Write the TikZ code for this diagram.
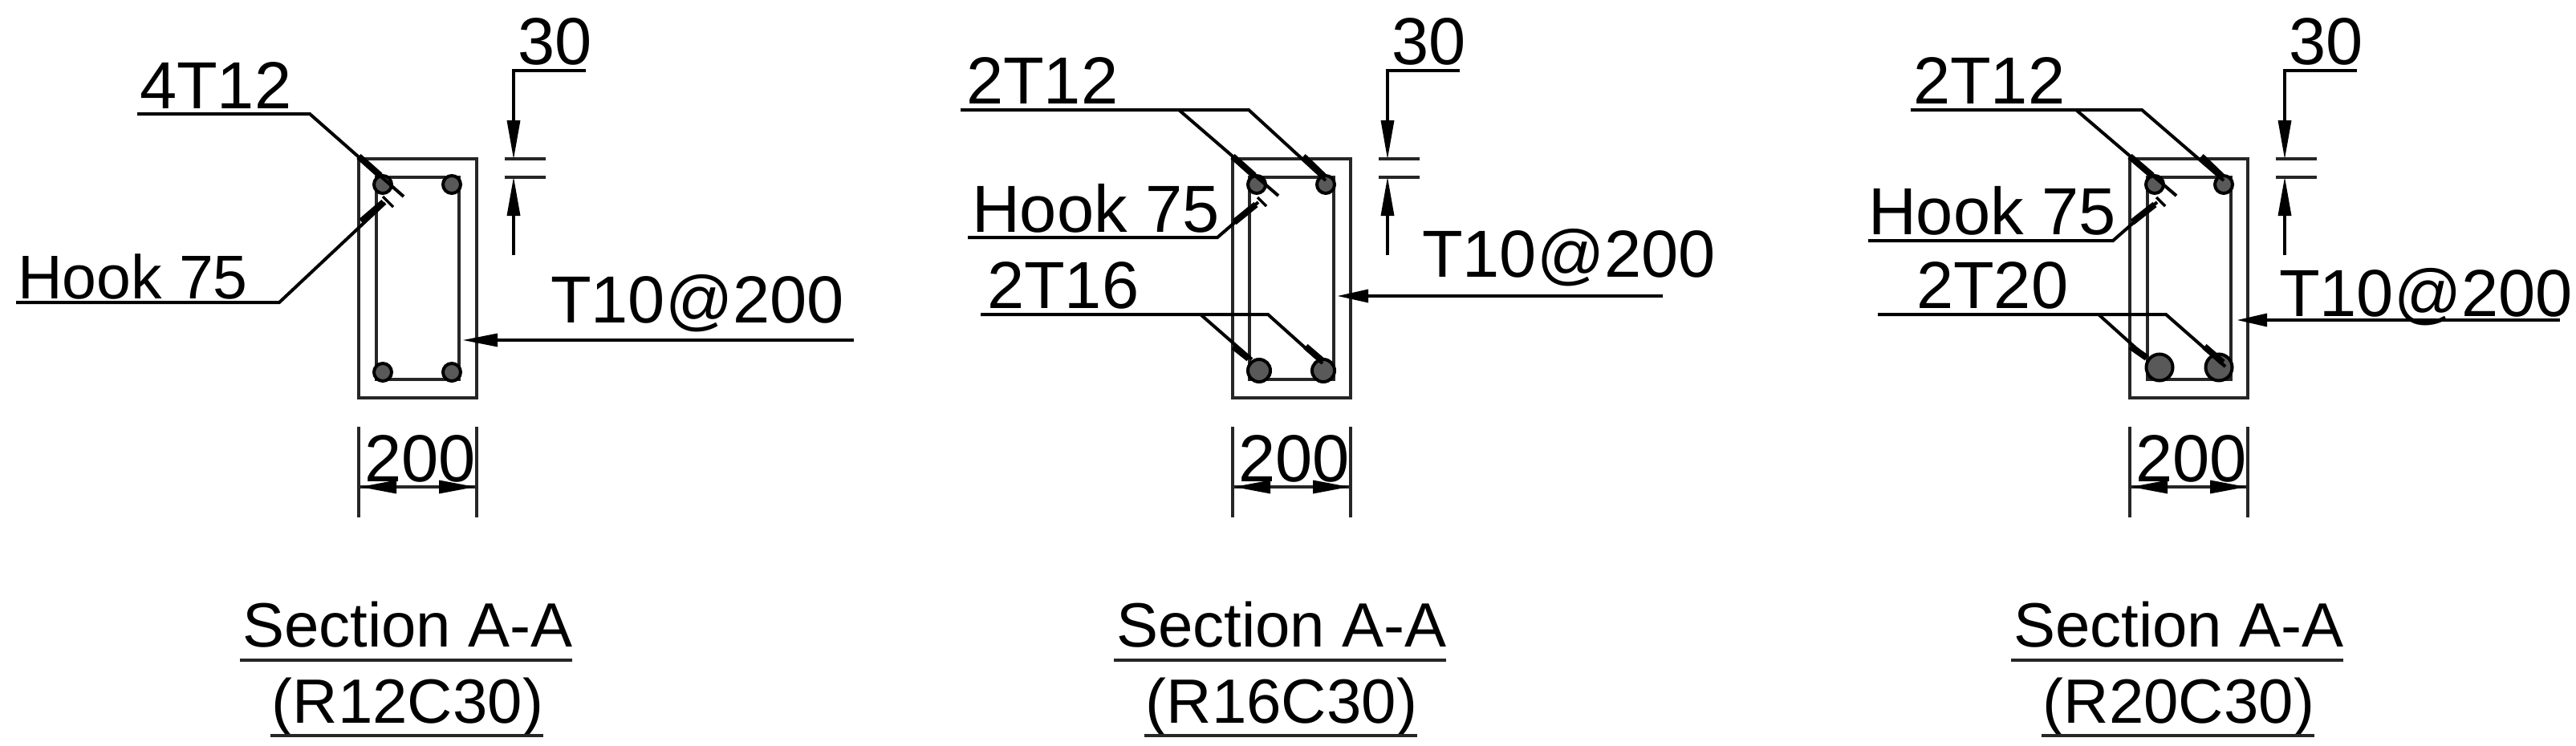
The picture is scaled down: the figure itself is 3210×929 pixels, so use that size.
\documentclass[tikz,border=0pt]{standalone}
\usepackage{fontspec}
\setmainfont{Liberation Sans}
\usetikzlibrary{arrows.meta}
\tikzset{
  x=1pt,y=-1pt,
  lbl/.style={anchor=base west,inner sep=0pt,outer sep=0pt,font=\fontsize{83}{83}\selectfont,text=black},
  smalllbl/.style={lbl,font=\fontsize{77}{77}\selectfont},
  ttl/.style={anchor=base,inner sep=0pt,outer sep=0pt,font=\fontsize{78}{78}\selectfont,text=black},
  ln/.style={draw=black!85,line width=4.5pt},
  ld/.style={draw=black,line width=4pt,line join=miter},
  thin ld/.style={draw=black,line width=3.5pt},
  fat/.style={draw=black,line width=8pt,line cap=butt},
  bar/.style={circle,draw=black,line width=4pt,fill=black!65,inner sep=0pt,minimum size=#1},
}
\newcommand{\secbase}[3]{% x offset, id, caption
  \begin{scope}[xshift=#1pt]
  \coordinate (o1#2) at (447,198); \coordinate (o2#2) at (594,496);
  \draw[ln] (o1#2) rectangle (o2#2);
  \coordinate (t1#2) at (629,198); \coordinate (t2#2) at (680,198);
  \coordinate (t3#2) at (629,221); \coordinate (t4#2) at (680,221);
  \draw[ln] (t1#2) -- (t2#2);
  \draw[ln] (t3#2) -- (t4#2);
  \coordinate (u0#2) at (730,88); \coordinate (u1#2) at (640,88);
  \coordinate (u2#2) at (640,198); \coordinate (l1#2) at (640,318); \coordinate (l2#2) at (640,221);
  \draw[ld] (u0#2) -- (u1#2) -- (640,150);
  \fill[black] (u2#2) -- (631.5,150) -- (648.5,150) -- cycle;
  \draw[ld] (l1#2) -- (640,269);
  \fill[black] (l2#2) -- (631.5,269) -- (648.5,269) -- cycle;
  \node[lbl] (c30#2) at (645,80) {30};
  \coordinate (e1#2) at (447,532); \coordinate (e2#2) at (447,645);
  \coordinate (e3#2) at (594,532); \coordinate (e4#2) at (594,645);
  \draw[ln] (e1#2) -- (e2#2);
  \draw[ln] (e3#2) -- (e4#2);
  \coordinate (d1#2) at (449,607); \coordinate (d2#2) at (592,607);
  \draw[ln] (d1#2) -- (d2#2);
  \fill[black] (d1#2) -- (494,598.5) -- (494,615.5) -- cycle;
  \fill[black] (d2#2) -- (547,598.5) -- (547,615.5) -- cycle;
  \node[lbl] (w200#2) at (454,600) {200};
  \node[ttl] (s1#2) at (508,806) {Section A-A};
  \coordinate (r1#2) at (299,823); \coordinate (r2#2) at (713,823);
  \draw[ln] (r1#2) -- (r2#2);
  \node[ttl] (s2#2) at (508,901) {#3};
  \coordinate (r3#2) at (337,917); \coordinate (r4#2) at (677,917);
  \draw[ln] (r3#2) -- (r4#2);
  \end{scope}
}
\begin{document}
\begin{tikzpicture}
\useasboundingbox (0,0) rectangle (3210,929);
\fill[white] (0,0) rectangle (3210,929);
\secbase{0}{a}{(R12C30)}
\secbase{1089}{b}{(R16C30)}
\secbase{2207}{c}{(R20C30)}

% ---------- panel 1
\draw[ln] (469,221) rectangle (572,473);
\node[bar=22pt] (a1) at (477,230) {};
\node[bar=22pt] (a2) at (563,230) {};
\node[bar=22pt] (a3) at (477,464) {};
\node[bar=22pt] (a4) at (563,464) {};
\node[lbl] (a4t) at (174,135) {4T12};
\coordinate (aL0) at (171,142); \coordinate (aL1) at (386,142); \coordinate (aL2) at (503,245);
\draw[ld] (aL0) -- (aL1) -- (aL2);
\draw[fat] (447,195) -- (474,219);
\node[smalllbl] (ah) at (22,372) {Hook 75};
\coordinate (aH0) at (20,377); \coordinate (aH1) at (348,377); \coordinate (aH2) at (480,253);
\draw[ld] (aH0) -- (aH1) -- (aH2);
\draw[fat] (450,276) -- (478,252);
\coordinate (aK1) at (477,245); \coordinate (aK2) at (490,258);
\draw[thin ld] (aK1) -- (aK2);
\node[lbl] (at) at (686,402) {T10@200};
\coordinate (aT0) at (1064,424); \coordinate (aT1) at (577,424);
\draw[ld] (aT0) -- (620,424);
\fill[black] (aT1) -- (620,415.5) -- (620,432.5) -- cycle;

% ---------- panel 2
\draw[ln] (1557,221) rectangle (1662,473);
\node[bar=22pt] (b1) at (1566,230) {};
\node[bar=22pt] (b2) at (1652,230) {};
\node[bar=28pt] (b3) at (1569,462) {};
\node[bar=28pt] (b4) at (1649,462) {};
\node[lbl] (b2t) at (1204,129) {2T12};
\coordinate (bL0) at (1197,137); \coordinate (bL1) at (1556,137); \coordinate (bB) at (1469,137);
\coordinate (bE1) at (1593,244); \coordinate (bE2) at (1652,225);
\draw[ld] (bL0) -- (bL1) -- (bE2);
\draw[ld] (bB) -- (bE1);
\draw[fat] (1536,195) -- (1563,219);
\draw[fat] (1624,195) -- (1650,220);
\node[lbl] (bh) at (1211,289) {Hook 75};
\coordinate (bH0) at (1206,296); \coordinate (bH1) at (1517,296); \coordinate (bH2) at (1568,252);
\draw[ld] (bH0) -- (bH1) -- (bH2);
\draw[fat] (1538,277) -- (1565,255);
\coordinate (bK1) at (1567,246); \coordinate (bK2) at (1578,257);
\draw[thin ld] (bK1) -- (bK2);
\node[lbl] (b16) at (1230,384) {2T16};
\coordinate (bM0) at (1222,392); \coordinate (bM1) at (1580,392); \coordinate (bMB) at (1496,392);
\coordinate (bM2) at (1648,453); \coordinate (bM3) at (1560,448);
\draw[ld] (bM0) -- (bM1) -- (bM2);
\draw[ld] (bMB) -- (bM3);
\draw[fat] (1537,432) -- (1556,447);
\draw[fat] (1627,432) -- (1648,450);
\node[lbl] (bt) at (1772,345) {T10@200};
\coordinate (bT0) at (2072,369); \coordinate (bT1) at (1667,369);
\draw[ld] (bT0) -- (1705,369);
\fill[black] (bT1) -- (1705,360.5) -- (1705,377.5) -- cycle;

% ---------- panel 3
\draw[ln] (2676,221) rectangle (2780,473);
\node[bar=22pt] (c1) at (2685,230) {};
\node[bar=22pt] (c2) at (2771,230) {};
\node[bar=33pt] (c3) at (2691,458) {};
\node[bar=33pt] (c4) at (2765,458) {};
\node[lbl] (c2t) at (2384,129) {2T12};
\coordinate (cL0) at (2381,137); \coordinate (cL1) at (2669,137); \coordinate (cB) at (2587,137);
\coordinate (cE1) at (2712,244); \coordinate (cE2) at (2771,225);
\draw[ld] (cL0) -- (cL1) -- (cE2);
\draw[ld] (cB) -- (cE1);
\draw[fat] (2654,195) -- (2682,219);
\draw[fat] (2743,195) -- (2769,220);
\node[lbl] (ch) at (2328,292) {Hook 75};
\coordinate (cH0) at (2328,300); \coordinate (cH1) at (2633,300); \coordinate (cH2) at (2688,252);
\draw[ld] (cH0) -- (cH1) -- (cH2);
\draw[fat] (2657,277) -- (2685,255);
\coordinate (cK1) at (2687,246); \coordinate (cK2) at (2698,257);
\draw[thin ld] (cK1) -- (cK2);
\node[lbl] (c20) at (2388,384) {2T20};
\coordinate (cM0) at (2340,392); \coordinate (cM1) at (2699,392); \coordinate (cMB) at (2615,392);
\coordinate (cM2) at (2773,457); \coordinate (cM3) at (2675,446);
\draw[ld] (cM0) -- (cM1) -- (cM2);
\draw[ld] (cMB) -- (cM3);
\draw[fat] (2655,432) -- (2675,446);
\draw[fat] (2747,432) -- (2770,452);
\node[lbl] (ct) at (2840,394) {T10@200};
\coordinate (cT0) at (3190,399); \coordinate (cT1) at (2788,399);
\draw[ld] (cT0) -- (2825,399);
\fill[black] (cT1) -- (2825,390.5) -- (2825,407.5) -- cycle;
\end{tikzpicture}
\end{document}
